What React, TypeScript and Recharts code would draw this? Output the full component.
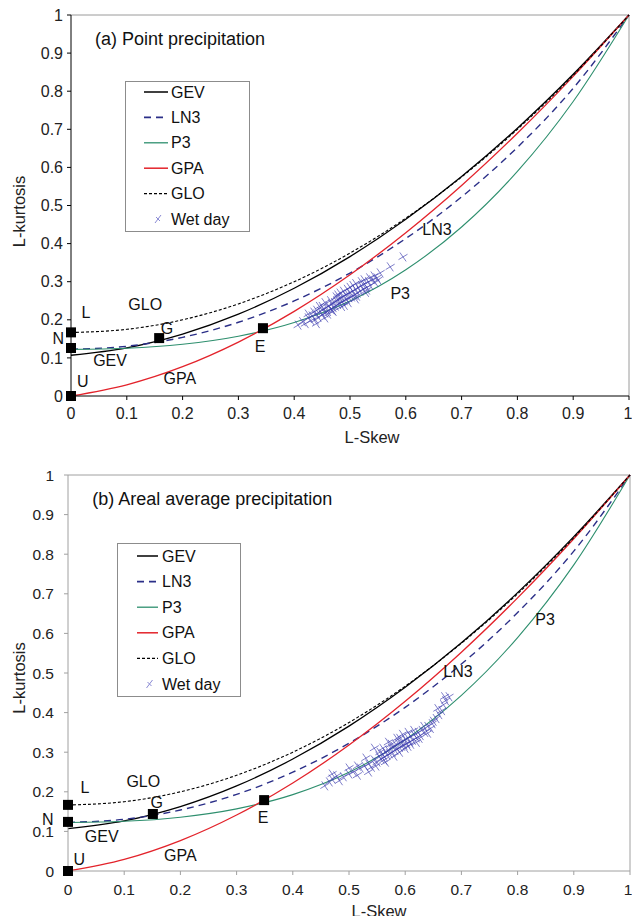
import React from "react";
import {
  ComposedChart,
  Line,
  Scatter,
  XAxis,
  YAxis,
  ReferenceDot,
  ReferenceLine,
  Legend,
  Label,
} from "recharts";

// theoretical L-moment ratio curves, read at each 0.1 of L-skew
const skewGrid = [0, 0.1, 0.2, 0.3, 0.4, 0.5, 0.6, 0.7, 0.8, 0.9, 1];
const gevKurt = [0.107, 0.1265, 0.1626, 0.2148, 0.2827, 0.3658, 0.4638, 0.5762, 0.7029, 0.8443, 1];
const ln3Kurt = [0.1228, 0.1306, 0.154, 0.1935, 0.2495, 0.3226, 0.4133, 0.5226, 0.6526, 0.8077, 1];
const p3Kurt = [0.1224, 0.1255, 0.1359, 0.1569, 0.1929, 0.2493, 0.3314, 0.4435, 0.5894, 0.773, 1];
const gpaKurt = [0, 0.0294, 0.0769, 0.1415, 0.2222, 0.3182, 0.4286, 0.5526, 0.6897, 0.839, 1];
const gloKurt = [0.1667, 0.175, 0.2, 0.2417, 0.3, 0.375, 0.4667, 0.575, 0.7, 0.8417, 1];

// wet day stations, panel (a)
const wetSkewA = [
  0.407, 0.415, 0.42, 0.425, 0.43, 0.432, 0.438, 0.44, 0.443, 0.447, 0.45, 0.452, 0.455, 0.458,
  0.46, 0.462, 0.465, 0.467, 0.47, 0.472, 0.474, 0.476, 0.478, 0.48, 0.482, 0.484, 0.486, 0.488,
  0.49, 0.492, 0.494, 0.496, 0.498, 0.5, 0.503, 0.505, 0.508, 0.51, 0.513, 0.515, 0.518, 0.52,
  0.523, 0.526, 0.53, 0.533, 0.536, 0.54, 0.545, 0.548, 0.554, 0.572, 0.595, 0.445, 0.46, 0.475,
  0.49, 0.5, 0.51, 0.52, 0.435, 0.455, 0.468, 0.482, 0.497, 0.505, 0.528,
  0.425, 0.44, 0.45, 0.465, 0.478, 0.488, 0.495, 0.51, 0.525, 0.535, 0.543, 0.55, 0.485, 0.47,
  0.512, 0.53, 0.455, 0.44,
];
const wetKurtA = [
  0.186, 0.195, 0.19, 0.205, 0.198, 0.21, 0.2, 0.215, 0.207, 0.222, 0.212, 0.228, 0.218, 0.232,
  0.222, 0.236, 0.228, 0.242, 0.232, 0.245, 0.236, 0.25, 0.24, 0.255, 0.244, 0.258, 0.248, 0.262,
  0.25, 0.265, 0.254, 0.268, 0.258, 0.272, 0.26, 0.275, 0.265, 0.28, 0.27, 0.284, 0.275, 0.29,
  0.28, 0.294, 0.285, 0.3, 0.29, 0.305, 0.298, 0.31, 0.323, 0.339, 0.365, 0.235, 0.215, 0.26,
  0.238, 0.285, 0.255, 0.3, 0.22, 0.245, 0.225, 0.27, 0.245, 0.29, 0.272,
  0.215, 0.225, 0.235, 0.25, 0.265, 0.275, 0.28, 0.295, 0.305, 0.31, 0.315, 0.305, 0.235, 0.222,
  0.262, 0.278, 0.205, 0.19,
];

// wet day stations, panel (b)
const wetSkewB = [
  0.457, 0.465, 0.47, 0.478, 0.483, 0.49, 0.5, 0.508, 0.515, 0.52, 0.528, 0.535, 0.54, 0.545,
  0.55, 0.553, 0.557, 0.56, 0.563, 0.566, 0.568, 0.57, 0.572, 0.575, 0.577, 0.58, 0.582, 0.584,
  0.586, 0.588, 0.59, 0.592, 0.594, 0.596, 0.598, 0.6, 0.603, 0.605, 0.608, 0.61, 0.613, 0.616,
  0.62, 0.623, 0.627, 0.63, 0.635, 0.64, 0.645, 0.65, 0.655, 0.66, 0.665, 0.668, 0.672, 0.678,
  0.545, 0.535, 0.565, 0.58, 0.59, 0.6, 0.575, 0.555, 0.62, 0.64, 0.53,
  0.585, 0.595, 0.605, 0.57, 0.56, 0.61, 0.615, 0.625, 0.633, 0.648, 0.658, 0.67, 0.5, 0.515,
  0.548, 0.562, 0.59, 0.605, 0.47,
];
const wetKurtB = [
  0.215, 0.225, 0.232, 0.24, 0.228, 0.238, 0.245, 0.25, 0.242, 0.26, 0.265, 0.27, 0.262, 0.28,
  0.275, 0.29, 0.283, 0.295, 0.288, 0.3, 0.292, 0.305, 0.296, 0.31, 0.3, 0.315, 0.305, 0.318,
  0.308, 0.322, 0.312, 0.325, 0.315, 0.328, 0.318, 0.332, 0.322, 0.335, 0.326, 0.34, 0.33, 0.344,
  0.336, 0.35, 0.342, 0.355, 0.35, 0.365, 0.36, 0.378, 0.385, 0.395, 0.405, 0.42, 0.43, 0.44,
  0.31, 0.25, 0.275, 0.29, 0.335, 0.31, 0.32, 0.3, 0.325, 0.348, 0.285,
  0.335, 0.345, 0.35, 0.325, 0.31, 0.32, 0.355, 0.335, 0.365, 0.372, 0.41, 0.44, 0.26, 0.265,
  0.265, 0.28, 0.3, 0.315, 0.245,
];

// L (logistic), N (normal), U (uniform), G (Gumbel), E (exponential)
const pointSkewA = [0, 0, 0, 0.158, 0.344];
const pointKurtA = [0.167, 0.126, 0, 0.152, 0.178];
const pointSkewB = [0, 0, 0, 0.151, 0.349];
const pointKurtB = [0.167, 0.124, 0, 0.144, 0.179];

const axisTicks = [0, 0.1, 0.2, 0.3, 0.4, 0.5, 0.6, 0.7, 0.8, 0.9, 1];

const FONT = "'Liberation Sans', Arial, sans-serif";

const curves = [
  { name: "GEV", kurt: gevKurt, stroke: "#000000", dash: undefined, width: 1.3 },
  { name: "LN3", kurt: ln3Kurt, stroke: "#2b2f88", dash: "7 5", width: 1.4 },
  { name: "P3", kurt: p3Kurt, stroke: "#2e8f6e", dash: undefined, width: 1.1 },
  { name: "GPA", kurt: gpaKurt, stroke: "#e3232b", dash: undefined, width: 1.3 },
  { name: "GLO", kurt: gloKurt, stroke: "#000000", dash: "3 2", width: 1.1 },
];

const toPts = (xs: number[], ys: number[]) => xs.map((x, i) => ({ x, y: ys[i] }));

const Cross = (p: any) => {
  const { cx, cy } = p;
  const s = 4.5;
  return (
    <path
      d={`M${cx - s * 0.7},${cy - s}L${cx + s * 0.7},${cy + s}M${cx - s},${cy + s * 0.6}L${cx + s},${cy - s * 0.6}`}
      stroke="#4040b0"
      strokeOpacity={0.75}
      strokeWidth={0.9}
      fill="none"
    />
  );
};

const Square = (p: any) => (
  <rect x={p.cx - 5} y={p.cy - 5} width={10} height={10} fill="#000" />
);

const panelA = {
  title: "(a) Point precipitation",
  titleAt: { x: 0.043, y: 0.937 },
  top: 0,
  height: 460,
  margin: { top: 15, right: 3, bottom: 20, left: 0 },
  yAxisWidth: 71,
  xAxisHeight: 44,
  axisColor: "#000",
  frameColor: "#9a9a9a",
  tickFont: 16,
  yTickMargin: 4,
  xTickMargin: 8,
  xLabelDx: 22,
  xLabelDy: 47,
  yLabelDy: 6,
  legend: { left: 125, top: 81, width: 125, height: 151, rowTop: 11, rowGap: 25.4, x1: 19, x2: 43, tx: 46 },
  wetSkew: wetSkewA,
  wetKurt: wetKurtA,
  pointSkew: pointSkewA,
  pointKurt: pointKurtA,
  labels: [
    { text: "L", x: 0.027, y: 0.218 },
    { text: "N", x: -0.023, y: 0.15 },
    { text: "U", x: 0.021, y: 0.037 },
    { text: "G", x: 0.172, y: 0.178 },
    { text: "E", x: 0.339, y: 0.129 },
    { text: "GLO", x: 0.133, y: 0.239 },
    { text: "GEV", x: 0.07, y: 0.094 },
    { text: "GPA", x: 0.195, y: 0.047 },
    { text: "LN3", x: 0.656, y: 0.436 },
    { text: "P3", x: 0.59, y: 0.27 },
  ],
};

const panelB = {
  title: "(b) Areal average precipitation",
  titleAt: { x: 0.043, y: 0.939 },
  top: 460,
  height: 456,
  margin: { top: 15, right: 2, bottom: 0, left: 0 },
  yAxisWidth: 68,
  xAxisHeight: 45,
  axisColor: "#a0a0a0",
  frameColor: "#a0a0a0",
  tickFont: 15.5,
  yTickMargin: 10,
  xTickMargin: 9,
  xLabelDx: 30,
  xLabelDy: 46,
  yLabelDy: 5,
  legend: { left: 117, top: 83, width: 124, height: 154, rowTop: 13, rowGap: 25.6, x1: 20, x2: 41, tx: 45 },
  wetSkew: wetSkewB,
  wetKurt: wetKurtB,
  pointSkew: pointSkewB,
  pointKurt: pointKurtB,
  labels: [
    { text: "L", x: 0.03, y: 0.212 },
    { text: "N", x: -0.036, y: 0.131 },
    { text: "U", x: 0.02, y: 0.03 },
    { text: "G", x: 0.158, y: 0.174 },
    { text: "E", x: 0.347, y: 0.134 },
    { text: "GLO", x: 0.134, y: 0.225 },
    { text: "GEV", x: 0.06, y: 0.086 },
    { text: "GPA", x: 0.2, y: 0.04 },
    { text: "LN3", x: 0.694, y: 0.505 },
    { text: "P3", x: 0.849, y: 0.636 },
  ],
};

const renderLegend = (cfg: any) => () => {
  const lg = cfg.legend;
  const wy = lg.rowTop + 5 * lg.rowGap;
  const wx = (lg.x1 + lg.x2) / 2 + 2;
  return (
    <svg width={lg.width} height={lg.height} style={{ display: "block" }}>
      <rect x={0.5} y={0.5} width={lg.width - 1} height={lg.height - 1} fill="#fff" stroke="#8c8c8c" />
      {curves.map((c, i) => {
        const y = lg.rowTop + i * lg.rowGap;
        return (
          <g key={c.name}>
            <line x1={lg.x1} x2={lg.x2} y1={y} y2={y} stroke={c.stroke} strokeWidth={c.width + 0.2} strokeDasharray={c.dash} />
            <text x={lg.tx} y={y} dominantBaseline="central" fontFamily={FONT} fontSize={16} fill="#111">
              {c.name}
            </text>
          </g>
        );
      })}
      <path d={`M${wx - 3},${wy + 4}L${wx + 3},${wy - 4}M${wx - 2},${wy - 2}L${wx + 2},${wy + 2}`} stroke="#8a8ad4" strokeWidth={1} />
      <text x={lg.tx} y={wy} dominantBaseline="central" fontFamily={FONT} fontSize={16} fill="#111">
        Wet day
      </text>
    </svg>
  );
};

const Panel = ({ cfg }: { cfg: any }) => {
  const tick = { fontFamily: FONT, fontSize: cfg.tickFont, fill: "#222" };
  return (
    <div style={{ position: "absolute", left: 0, top: cfg.top }}>
      <ComposedChart width={632} height={cfg.height} margin={cfg.margin}>
        <XAxis
          type="number"
          dataKey="x"
          domain={[0, 1]}
          ticks={axisTicks}
          tickFormatter={(v: number) => String(v)}
          stroke={cfg.axisColor}
          tick={tick}
          tickSize={4}
          tickMargin={cfg.xTickMargin}
          height={cfg.xAxisHeight}
        >
          <Label
            content={(p: any) => {
              const vb = p.viewBox;
              return (
                <text
                  x={vb.x + vb.width / 2 + cfg.xLabelDx}
                  y={vb.y + cfg.xLabelDy}
                  textAnchor="middle"
                  fontFamily={FONT}
                  fontSize={16.5}
                  fill="#222"
                >
                  L-Skew
                </text>
              );
            }}
          />
        </XAxis>
        <YAxis
          type="number"
          dataKey="y"
          domain={[0, 1]}
          ticks={axisTicks}
          tickFormatter={(v: number) => String(v)}
          stroke={cfg.axisColor}
          tick={tick}
          tickSize={4}
          tickMargin={cfg.yTickMargin}
          width={cfg.yAxisWidth}
        >
          <Label
            content={(p: any) => {
              const vb = p.viewBox;
              const x = 18.5;
              const y = vb.y + vb.height / 2 + cfg.yLabelDy;
              return (
                <text
                  x={x}
                  y={y}
                  transform={`rotate(-90, ${x}, ${y})`}
                  textAnchor="middle"
                  dominantBaseline="central"
                  fontFamily={FONT}
                  fontSize={16.5}
                  fill="#222"
                >
                  L-kurtosis
                </text>
              );
            }}
          />
        </YAxis>
        <ReferenceLine y={1} stroke={cfg.frameColor} />
        <ReferenceLine x={1} stroke={cfg.frameColor} />
        {curves.map((c) => (
          <Line
            key={c.name}
            name={c.name}
            data={toPts(skewGrid, c.kurt)}
            dataKey="y"
            type="monotone"
            stroke={c.stroke}
            strokeWidth={c.width}
            strokeDasharray={c.dash}
            dot={false}
            activeDot={false}
            isAnimationActive={false}
          />
        ))}
        <Scatter
          name="Wet day"
          data={toPts(cfg.wetSkew, cfg.wetKurt)}
          dataKey="y"
          shape={Cross}
          isAnimationActive={false}
        />
        <Scatter
          name="points"
          data={toPts(cfg.pointSkew, cfg.pointKurt)}
          dataKey="y"
          shape={Square}
          legendType="none"
          isAnimationActive={false}
        />
        {cfg.labels.map((l: any) => (
          <ReferenceDot
            key={l.text}
            x={l.x}
            y={l.y}
            r={0}
            ifOverflow="visible"
            shape={(p: any) => (
              <text
                x={p.cx}
                y={p.cy}
                textAnchor="middle"
                dominantBaseline="central"
                fontFamily={FONT}
                fontSize={16}
                fill="#111"
              >
                {l.text}
              </text>
            )}
          />
        ))}
        <ReferenceDot
          x={cfg.titleAt.x}
          y={cfg.titleAt.y}
          r={0}
          ifOverflow="visible"
          shape={(p: any) => (
            <text
              x={p.cx}
              y={p.cy}
              dominantBaseline="central"
              fontFamily={FONT}
              fontSize={18}
              fill="#111"
            >
              {cfg.title}
            </text>
          )}
        />
        <Legend
          layout="vertical"
          align="center"
          verticalAlign="middle"
          content={renderLegend(cfg)}
          wrapperStyle={{
            left: cfg.legend.left,
            top: cfg.legend.top,
            width: cfg.legend.width,
            height: cfg.legend.height,
          }}
        />
      </ComposedChart>
    </div>
  );
}

export default function App() {
  return (
    <div
      style={{
        position: "absolute",
        left: 0,
        top: 0,
        width: 632,
        height: 916,
        background: "#fff",
        overflow: "hidden",
      }}
    >
      <Panel cfg={panelA} />
      <Panel cfg={panelB} />
    </div>
  );
}
